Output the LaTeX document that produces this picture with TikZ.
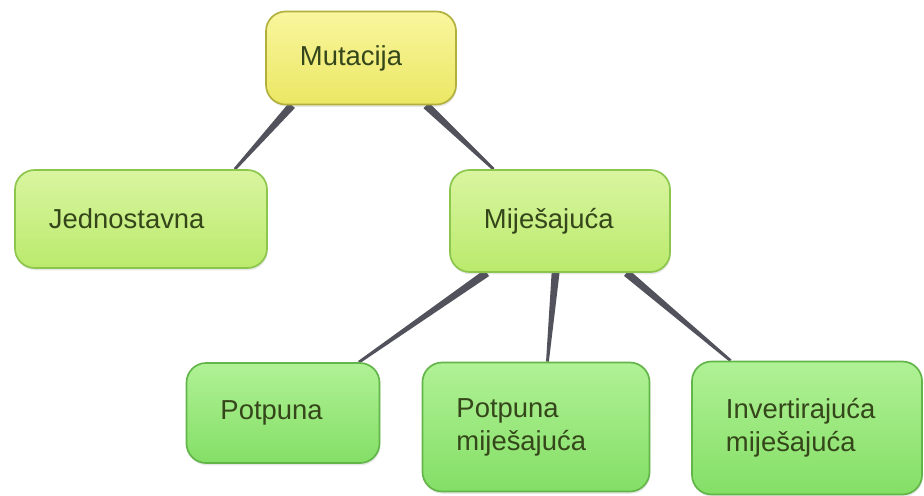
\documentclass[tikz,border=0pt]{standalone}
\usepackage{fontspec}
\setmainfont{Liberation Sans}
\usepackage{tikz}
\usetikzlibrary{calc,shadows,backgrounds}
\definecolor{yelTop}{HTML}{F9F69E}
\definecolor{yelBot}{HTML}{EBE764}
\definecolor{yelLine}{HTML}{B2B03C}
\definecolor{midTop}{HTML}{D9F5A0}
\definecolor{midBot}{HTML}{BAEA6C}
\definecolor{midLine}{HTML}{8CC64C}
\definecolor{leafTop}{HTML}{B0F196}
\definecolor{leafBot}{HTML}{84DF66}
\definecolor{leafLine}{HTML}{62B548}
\definecolor{textDark}{HTML}{34461A}
\definecolor{linkGray}{HTML}{52525C}
\tikzset{
  topic/.style={
    rectangle,
    rounded corners=14pt,
    line width=1.2pt,
    align=left,
    inner xsep=0.85cm,
    inner ysep=2pt,
    text=textDark,
    font=\fontsize{19.5}{23.5}\selectfont,
    drop shadow={opacity=0.18,shadow xshift=0.6pt,shadow yshift=-1.6pt}
  },
  root/.style={topic, draw=yelLine, top color=yelTop, bottom color=yelBot},
  branch/.style={topic, draw=midLine, top color=midTop, bottom color=midBot},
  leaf/.style={topic, draw=leafLine, top color=leafTop, bottom color=leafBot},
  link/.style={fill=linkGray}
}
% tapered connector: parent, fraction along its bottom, child, fraction along its top
\newcommand{\twig}[4]{%
  \coordinate (t1) at ($(#1.south west)!#2!(#1.south east)$);
  \coordinate (t2) at ($(#3.north west)!#4!(#3.north east)$);
  \fill[link] ($(t1)!2.8pt!90:(t2)$) -- ($(t2)!1pt!-90:(t1)$)
    -- ($(t2)!1pt!90:(t1)$) -- ($(t1)!2.8pt!-90:(t2)$) -- cycle;}

\begin{document}
\begin{tikzpicture}[x=0.025cm, y=-0.025cm]
  \useasboundingbox (0,0) rectangle (924,495);
  \node[root, text width=3.05cm, minimum height=2.325cm] (mut) at (361,58) {Mutacija};
  \node[branch, text width=4.6cm, minimum height=2.45cm] (jed) at (141,219) {Jednostavna};
  \node[branch, text width=3.8cm, minimum height=2.55cm] (mij) at (560,221) {Miješajuća};
  \node[leaf, text width=3.125cm, minimum height=2.5cm] (pot) at (283,413) {Potpuna};
  \node[leaf, text width=3.975cm, minimum height=3.225cm] (potmij) at (536,427) {Potpuna\\miješajuća};
  \node[leaf, text width=4.05cm, minimum height=3.325cm] (invmij) at (807,428) {Invertirajuća\\miješajuća};

  \begin{pgfonlayer}{background}
    \twig{mut}{0.14}{jed}{0.87}
    \twig{mut}{0.84}{mij}{0.20}
    \twig{mij}{0.17}{pot}{0.89}
    \twig{mij}{0.48}{potmij}{0.55}
    \twig{mij}{0.80}{invmij}{0.17}
  \end{pgfonlayer}
\end{tikzpicture}
\end{document}
